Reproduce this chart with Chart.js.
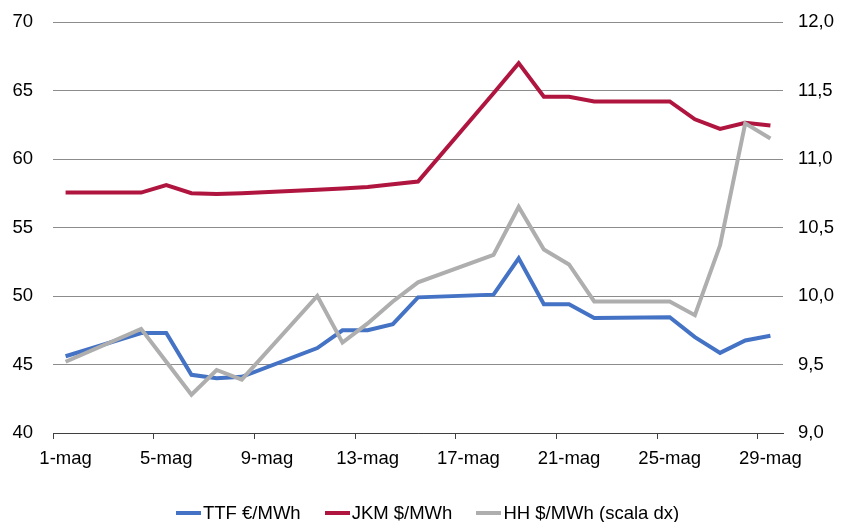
<!DOCTYPE html>
<html>
<head>
<meta charset="utf-8">
<script src="https://cdn.jsdelivr.net/npm/chart.js@4.4.1/dist/chart.umd.min.js"></script>
<style>
  html, body { margin: 0; padding: 0; background: #fff; }
  #wrap { position: relative; width: 845px; height: 522px; overflow: hidden; }
  #legend { position: absolute; left: 176px; top: 500px; white-space: nowrap;
    font-family: 'Liberation Sans Narrow', 'Arial Narrow', 'Liberation Sans', Arial, sans-serif;
    font-size: 18.5px; line-height: 26px; color: #000; }
  .item { display: inline-block; margin-right: 24px; }
  .swatch { display: inline-block; width: 25px; height: 4px; vertical-align: middle; margin-right: 2px; position: relative; top: -1px; }
</style>
</head>
<body>
<div id="wrap">
  <canvas id="chart" width="845" height="522"></canvas>
  <div id="legend"></div>
</div>
<script>
const fontFamily = "'Liberation Sans Narrow', 'Arial Narrow', 'Liberation Sans', Arial, sans-serif";
const fontSize = 18.5;

// giorni di maggio (weekend senza quotazione = null)
const days = ['1-mag','2-mag','3-mag','4-mag','5-mag','6-mag','7-mag','8-mag','9-mag','10-mag',
  '11-mag','12-mag','13-mag','14-mag','15-mag','16-mag','17-mag','18-mag','19-mag','20-mag',
  '21-mag','22-mag','23-mag','24-mag','25-mag','26-mag','27-mag','28-mag','29-mag'];

const ttf = [45.6, null, null, 47.3, 47.3, 44.25, 44.0, 44.1, null, null,
  46.2, 47.5, 47.5, 47.95, 49.9, null, null, 50.1, 52.75, 49.4,
  49.4, 48.4, null, null, 48.45, 47.0, 45.85, 46.75, 47.1];

const jkm = [57.55, null, null, 57.55, 58.1, 57.5, 57.45, 57.5, null, null,
  57.75, 57.85, 57.95, 58.15, 58.35, null, null, 64.8, 67.0, 64.55,
  64.55, 64.2, null, null, 64.2, 62.9, 62.2, 62.65, 62.45];

const hh = [9.52, null, null, 9.76, 9.52, 9.28, 9.46, 9.39, null, null,
  10.0, 9.66, 9.8, 9.96, 10.1, null, null, 10.3, 10.65, 10.34,
  10.23, 9.96, null, null, 9.96, 9.86, 10.37, 11.26, 11.15];

const seriesNames = ['TTF €/MWh', 'JKM $/MWh', 'HH $/MWh (scala dx)'];
const seriesColors = ['#4472C4', '#B0153F', '#AEAEAE'];

function makeLegend() {
  const legend = document.getElementById('legend');
  seriesNames.forEach((name, i) => {
    const item = document.createElement('span');
    item.className = 'item';
    const sw = document.createElement('span');
    sw.className = 'swatch';
    sw.style.background = seriesColors[i];
    item.appendChild(sw);
    item.appendChild(document.createTextNode(name));
    legend.appendChild(item);
  });
}

// larghezza fissa degli assi verticali, senza il margine extra sopra/sotto
function fixVertical(width) {
  return (scale) => {
    scale.width = width;
    scale.paddingTop = 0;
    scale.paddingBottom = 0;
  };
}

const lineStyle = { borderWidth: 4, pointRadius: 0, pointHoverRadius: 0, tension: 0, spanGaps: true, fill: false };

const config = {
  type: 'line',
  data: {
    labels: days,
    datasets: [
      { ...lineStyle, label: seriesNames[0], data: ttf, borderColor: seriesColors[0], yAxisID: 'y', order: 2 },
      { ...lineStyle, label: seriesNames[1], data: jkm, borderColor: seriesColors[1], yAxisID: 'y', order: 1 },
      { ...lineStyle, label: seriesNames[2], data: hh, borderColor: seriesColors[2], yAxisID: 'y1', order: 0 },
    ],
  },
  options: {
    responsive: false,
    animation: false,
    devicePixelRatio: 1,
    layout: { padding: { top: 22, left: 0, right: 0, bottom: 0 } },
    plugins: { legend: { display: false }, tooltip: { enabled: false } },
    scales: {
      x: {
        offset: true,
        grid: {
          offset: true,
          drawOnChartArea: false,
          drawTicks: true,
          tickLength: 6,
          color: (ctx) => (ctx.index !== undefined && ctx.index % 4 === 0) ? '#404040' : 'rgba(0,0,0,0)',
        },
        border: { display: true, color: '#404040', width: 1 },
        ticks: {
          autoSkip: false,
          maxRotation: 0,
          padding: 9,
          color: '#000',
          font: { family: fontFamily, size: fontSize },
          callback: (v, i) => (i % 4 === 0 ? days[i] : ''),
        },
        afterFit: (scale) => { scale.height = 89; },
      },
      y: {
        position: 'left',
        min: 40,
        max: 70,
        ticks: { stepSize: 5, padding: 20, color: '#000', font: { family: fontFamily, size: fontSize } },
        grid: { color: '#8C8C8C', lineWidth: 1, drawTicks: false },
        border: { display: false },
        afterFit: fixVertical(53),
      },
      y1: {
        position: 'right',
        min: 9,
        max: 12,
        ticks: {
          stepSize: 0.5, padding: 15, color: '#000', font: { family: fontFamily, size: fontSize },
          callback: (v) => v.toFixed(1).replace('.', ','),
        },
        grid: { display: false, drawTicks: false },
        border: { display: false },
        afterFit: fixVertical(62),
      },
    },
  },
};

makeLegend();
const myChart = new Chart(document.getElementById('chart'), config);
</script>
</body>
</html>
